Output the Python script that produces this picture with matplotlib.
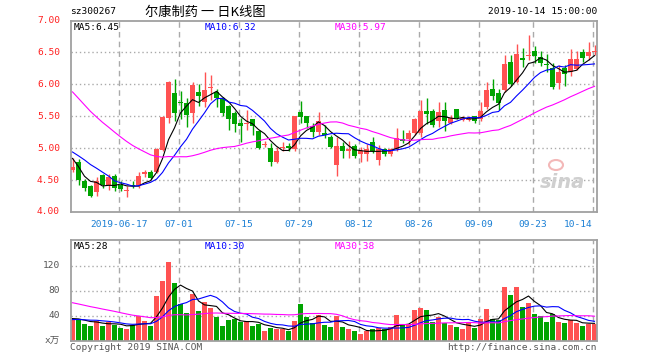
# -*- coding: utf-8 -*-
import numpy as np
import matplotlib
matplotlib.use('Agg')
from matplotlib import pyplot as plt
from matplotlib.patches import Ellipse

# 日K数据 (2019-06-04 ~ 2019-10-14)
opens = [4.66, 4.79, 4.49, 4.40, 4.31, 4.58, 4.43, 4.57, 4.43, 4.33,
         4.42, 4.43, 4.60, 4.63, 4.63, 4.97, 5.47, 5.86, 5.72, 5.71,
         5.55, 5.88, 5.73, 5.94, 5.88, 5.77, 5.66, 5.55, 5.40, 5.38,
         5.45, 5.27, 5.05, 5.00, 4.79, 5.00, 5.04, 4.99, 5.57, 5.50,
         5.34, 5.26, 5.24, 5.18, 4.74, 5.04, 4.95, 5.04, 4.91, 4.91,
         5.10, 4.82, 4.98, 4.91, 4.98, 5.14, 5.14, 5.23, 5.23, 5.58,
         5.59, 5.42, 5.60, 5.40, 5.61, 5.44, 5.44, 5.50, 5.46, 5.65,
         5.92, 5.86, 5.91, 6.35, 6.04, 6.42, 6.44, 6.52, 6.43, 6.32,
         6.26, 6.02, 6.25, 6.20, 6.24, 6.50, 6.45, 6.51]
highs = [4.85, 4.83, 4.52, 4.43, 4.55, 4.60, 4.60, 4.60, 4.48, 4.40,
         4.48, 4.63, 4.66, 4.66, 5.00, 5.50, 6.05, 6.09, 5.89, 5.78,
         6.03, 6.01, 6.20, 6.14, 5.92, 5.80, 5.68, 5.58, 5.47, 5.60,
         5.45, 5.29, 5.12, 5.08, 5.02, 5.10, 5.08, 5.50, 5.74, 5.50,
         5.39, 5.56, 5.36, 5.20, 5.18, 5.10, 5.12, 5.06, 5.02, 5.07,
         5.18, 5.05, 5.00, 5.00, 5.31, 5.29, 5.29, 5.47, 5.75, 5.78,
         5.62, 5.73, 5.73, 5.52, 5.62, 5.51, 5.50, 5.50, 5.72, 6.04,
         6.09, 5.93, 6.46, 6.46, 6.63, 6.57, 6.77, 6.60, 6.52, 6.47,
         6.33, 6.31, 6.30, 6.56, 6.52, 6.56, 6.66, 6.62]
lows = [4.63, 4.42, 4.33, 4.23, 4.25, 4.38, 4.35, 4.33, 4.33, 4.24,
        4.37, 4.38, 4.55, 4.52, 4.61, 4.96, 5.40, 5.43, 5.45, 5.33,
        5.39, 5.66, 5.65, 5.75, 5.65, 5.50, 5.28, 5.26, 5.09, 5.28,
        5.20, 4.98, 5.02, 4.72, 4.77, 4.95, 4.96, 4.95, 5.39, 5.31,
        5.17, 5.20, 5.16, 5.00, 4.57, 4.85, 4.84, 4.84, 4.79, 4.80,
        4.92, 4.73, 4.88, 4.88, 4.95, 5.08, 5.05, 5.20, 5.18, 5.38,
        5.33, 5.33, 5.27, 5.38, 5.45, 5.42, 5.42, 5.40, 5.42, 5.62,
        5.75, 5.60, 5.88, 5.98, 6.02, 6.27, 6.38, 6.34, 6.28, 6.20,
        5.93, 5.93, 5.98, 6.13, 6.23, 6.35, 6.38, 6.46]
closes = [4.71, 4.50, 4.38, 4.25, 4.48, 4.43, 4.55, 4.37, 4.36, 4.34,
          4.40, 4.56, 4.62, 4.53, 4.98, 5.49, 6.04, 5.55, 5.70, 5.52,
          5.99, 5.82, 5.91, 5.95, 5.78, 5.55, 5.45, 5.38, 5.34, 5.40,
          5.34, 5.00, 5.06, 4.79, 4.96, 5.01, 5.00, 5.50, 5.49, 5.39,
          5.26, 5.42, 5.21, 5.02, 5.04, 4.95, 4.98, 4.88, 4.96, 4.98,
          4.95, 4.98, 4.91, 4.98, 5.16, 5.12, 5.23, 5.45, 5.58, 5.54,
          5.36, 5.57, 5.42, 5.47, 5.48, 5.47, 5.46, 5.42, 5.59, 5.91,
          5.81, 5.71, 6.32, 6.01, 6.48, 6.38, 6.44, 6.44, 6.34, 6.30,
          5.96, 6.19, 6.16, 6.39, 6.40, 6.42, 6.51, 6.53]
# 成交量(万手)
volumes = [32.7, 35.4, 26.4, 23.7, 31.6, 23.7, 30.0, 25.9, 20.6, 18.5,
           25.9, 39.5, 31.1, 23.7, 71.2, 96.0, 126.5, 92.8, 58.0, 44.3,
           75.4, 47.4, 61.2, 52.2, 38.0, 23.7, 32.7, 34.8, 30.0, 31.6,
           23.7, 26.9, 15.3, 20.6, 18.5, 18.5, 15.3, 31.1, 58.0, 37.5,
           28.5, 41.7, 24.8, 22.1, 39.0, 22.1, 18.5, 15.3, 10.6, 15.3,
           18.5, 20.6, 18.5, 22.1, 40.6, 24.8, 25.9, 48.5, 52.2, 48.5,
           30.0, 37.5, 29.0, 24.8, 22.1, 18.5, 29.0, 20.6, 35.4, 50.1,
           35.4, 32.7, 85.4, 72.3, 85.4, 53.8, 60.1, 42.2, 39.5, 30.0,
           43.3, 30.0, 28.5, 33.0, 28.0, 23.7, 27.0, 27.0]

# 区间之前的收盘价和成交量(用于均线)
prev_closes = [7.55, 7.45, 7.30, 7.10, 6.95, 6.80, 6.70, 6.60, 6.45, 6.30,
               6.15, 6.05, 5.95, 5.75, 5.80, 5.75, 5.70, 5.65, 5.55, 5.50,
               5.10, 5.02, 4.98, 5.05, 5.05, 5.15, 5.13, 4.65, 4.56]
prev_volumes = [95, 90, 88, 86, 84, 85, 82, 84, 80, 83,
                78, 70, 68, 65, 62, 60, 58, 57, 55, 53,
                34, 31, 30, 33, 33, 38, 36, 35, 35]

price_legend = ['MA5:6.45', 'MA10:6.32', 'MA30:5.97']
vol_legend = ['MA5:28', 'MA10:30', 'MA30:38']

tick_idx = [8, 18, 28, 38, 48, 58, 68, 77, 87]
tick_labels = ['2019-06-17', '07-01', '07-15', '07-29', '08-12',
               '08-26', '09-09', '09-23', '10-14']
price_ticks = [4.00, 4.50, 5.00, 5.50, 6.00, 6.50, 7.00]
vol_ticks = [40, 80, 120]

RED = '#ff5252'
GREEN = '#00a400'
GRID = '#aaaaaa'
BORDER = '#a0a0a0'
DATE_C = '#1a7fd4'
TXT = '#555555'
MONO = ['DejaVu Sans Mono']
MA_COLORS = ['black', 'blue', 'magenta']
LEGEND_X = [74, 205, 335]


def moving_average(prev, cur, n):
    data = np.array(list(prev) + list(cur), dtype=float)
    ma = np.convolve(data, np.ones(n) / n, mode='valid')
    return ma[-len(cur):]


def style_axes(ax):
    for s in ax.spines.values():
        s.set_color(BORDER)
        s.set_linewidth(1.3)
    ax.tick_params(length=0, labelbottom=False, labelleft=False)
    for t in tick_idx:
        ax.axvline(t - 0.3, color=GRID, lw=1, ls=(0, (4, 3)), zorder=0)


x = np.arange(len(closes))
o = np.array(opens)
c = np.array(closes)
up = c >= o
colors = np.where(up, RED, GREEN)

fig = plt.figure(figsize=(6.6, 3.6), dpi=100)
xl = ((70.5 - 72.5) / 6, (597 - 72.5) / 6)

# K线
ax = fig.add_axes([70.5 / 660, 1 - 212 / 360, 526.5 / 660, 191.5 / 360])
ax.set_xlim(*xl)
ax.set_ylim(4.0, 7.0)
style_axes(ax)
for p in price_ticks[1:-1]:
    ax.axhline(p, color=GRID, lw=1, ls=(0, (1, 2)), zorder=0)
ax.vlines(x, lows, highs, colors=colors, lw=1, zorder=2)
body_h = np.maximum(np.abs(c - o), 0.012)
ax.bar(x, body_h, bottom=np.minimum(c, o), width=0.82, color=colors, zorder=3)
for n, col in zip([5, 10, 30], MA_COLORS):
    ax.plot(x, moving_average(prev_closes, closes, n), color=col, lw=0.8, zorder=4)
for lbl, col, px in zip(price_legend, MA_COLORS, LEGEND_X):
    fig.text(px / 660, 1 - 27 / 360, lbl, fontsize=6.8, family=MONO, color=col, va='center')
for p in price_ticks:
    ax.text(-0.02, p, '%.2f' % p, transform=ax.get_yaxis_transform(),
            ha='right', va='center', fontsize=6.8, family=MONO, color='#ff2020')
for t, lbl in zip(tick_idx, tick_labels):
    ha = 'right' if t == tick_idx[-1] else 'center'
    ax.text(t - 0.3, -0.04, lbl, transform=ax.get_xaxis_transform(), ha=ha, va='top',
            fontsize=6.8, family=MONO, color=DATE_C)

# 新浪水印
fig.patches.append(Ellipse((556 / 660, 1 - 165 / 360), 14 / 660, 10 / 360,
                           transform=fig.transFigure, fill=False, ec='#f3b8b8', lw=1.5))
fig.text(562 / 660, 1 - 182 / 360, 'sina', fontsize=14, color='#cfcfcf',
         style='italic', weight='bold', ha='center', va='center')

# 成交量
axv = fig.add_axes([70.5 / 660, 1 - 340.7 / 360, 526.5 / 660, 100.7 / 360])
axv.set_xlim(*xl)
axv.set_ylim(0, 161)
style_axes(axv)
for v in vol_ticks:
    axv.axhline(v, color=GRID, lw=1, ls=(0, (1, 2)), zorder=0)
axv.bar(x, volumes, width=0.82, color=colors, zorder=2)
for n, col in zip([5, 10, 30], MA_COLORS):
    axv.plot(x, moving_average(prev_volumes, volumes, n), color=col, lw=0.8, zorder=4)
for lbl, col, px in zip(vol_legend, MA_COLORS, LEGEND_X):
    fig.text(px / 660, 1 - 246.5 / 360, lbl, fontsize=6.8, family=MONO, color=col, va='center')
for v in vol_ticks:
    axv.text(-0.02, v, '%d' % v, transform=axv.get_yaxis_transform(),
             ha='right', va='center', fontsize=6.8, family=MONO, color=TXT)
axv.text(-0.02, 0, 'x万', transform=axv.get_yaxis_transform(), ha='right', va='center',
         fontsize=6.8, family=['DejaVu Sans Mono', 'Noto Sans CJK SC'], color=TXT)

# 标题和版权
fig.text(70 / 660, 1 - 12 / 360, 'sz300267', fontsize=6.8, family=MONO, va='center')
fig.text(205 / 660, 1 - 12 / 360, '尔康制药 一 日K线图', fontsize=9.5,
         family=['Noto Sans CJK SC', 'DejaVu Sans'], va='center', ha='center')
fig.text(597 / 660, 1 - 12 / 360, '2019-10-14 15:00:00', fontsize=6.8, family=MONO,
         va='center', ha='right')
fig.text(70 / 660, 1 - 347 / 360, 'Copyright 2019 SINA.COM', fontsize=6.8, family=MONO,
         va='center', color=TXT)
fig.text(597 / 660, 1 - 347 / 360, 'http://finance.sina.com.cn', fontsize=6.8, family=MONO,
         va='center', ha='right', color=TXT)

fig.savefig('out.png', dpi=100)
